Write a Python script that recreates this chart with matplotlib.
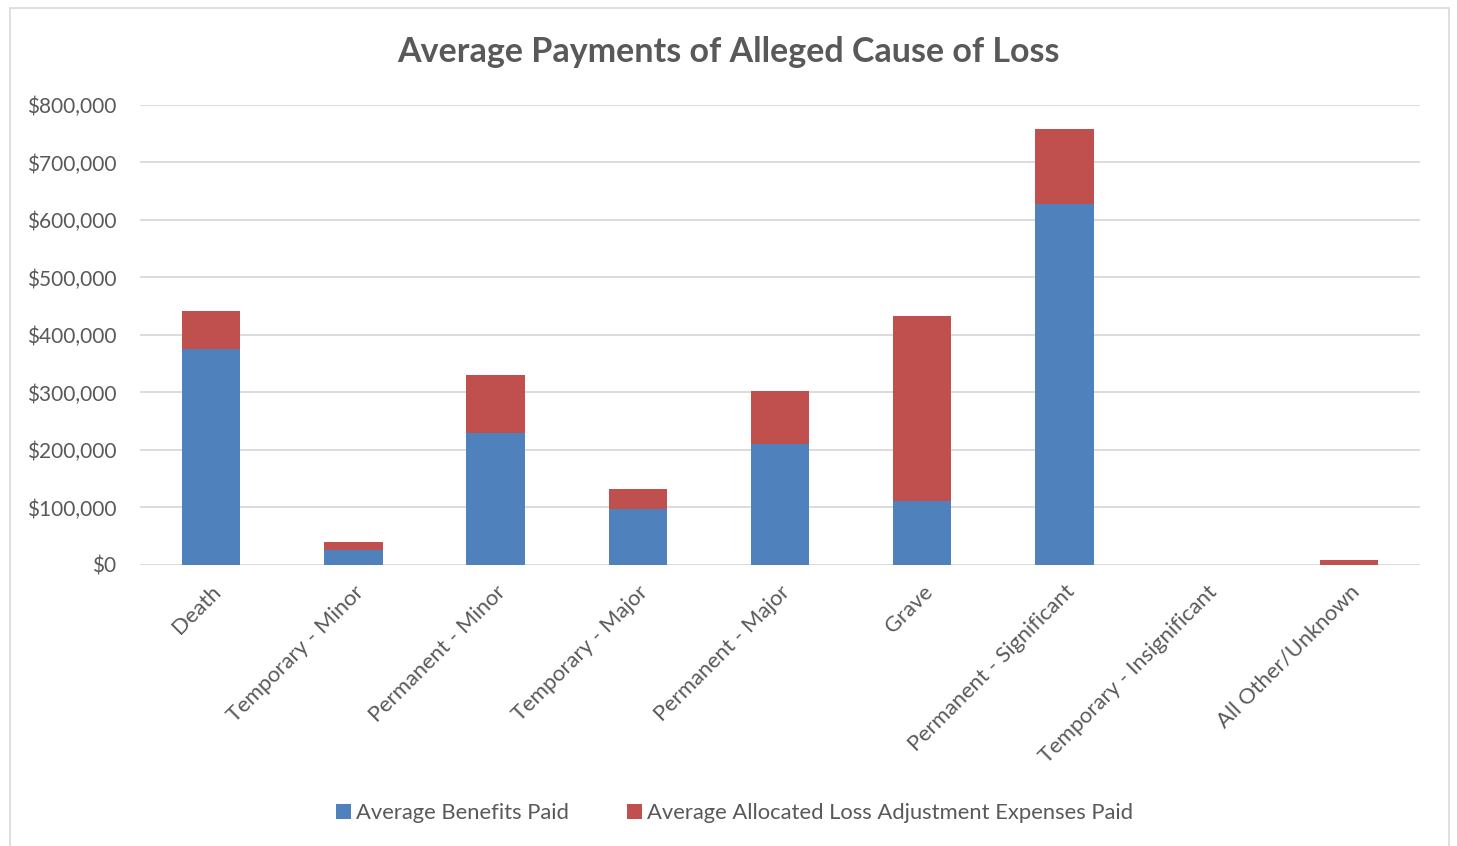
import matplotlib.pyplot as plt
from matplotlib.patches import Rectangle
from matplotlib.ticker import FuncFormatter

categories = ['Death', 'Temporary - Minor', 'Permanent - Minor', 'Temporary - Major',
              'Permanent - Major', 'Grave', 'Permanent - Significant',
              'Temporary - Insignificant', 'All Other/Unknown']
benefits = [376000, 25500, 229000, 97800, 211000, 110800, 627000, 0, 0]
alae = [66000, 14500, 101000, 33800, 92000, 322700, 131600, 0, 8000]

plt.rcParams['font.family'] = ['Lato', 'DejaVu Sans']
text_color = '#595959'

fig = plt.figure(figsize=(14.57, 8.46), dpi=100)
ax = fig.add_axes([0.0961, 0.3322, 0.8785, 0.5437])

x = range(len(categories))
ax.bar(x, benefits, width=0.41, color='#4f81bd', label='Average Benefits Paid', zorder=3)
ax.bar(x, alae, width=0.41, bottom=benefits, color='#c0504d',
       label='Average Allocated Loss Adjustment Expenses Paid', zorder=3)

ax.set_xlim(-0.5, len(categories) - 0.5)
ax.set_ylim(0, 800000)
ax.set_yticks(range(0, 800001, 100000))
ax.yaxis.set_major_formatter(FuncFormatter(lambda v, p: f'${v:,.0f}'))
ax.grid(axis='y', color='#d9d9d9', linewidth=1.3, zorder=0)
for s in ax.spines.values():
    s.set_visible(False)
ax.tick_params(length=0, colors=text_color, labelsize=15)
ax.tick_params(axis='y', pad=17)
ax.tick_params(axis='x', pad=12, labelsize=15.8)
ax.set_xticks(list(x))
ax.set_xticklabels(categories, rotation=45, ha='right', rotation_mode='anchor')

fig.text(0.5, 0.938, 'Average Payments of Alleged Cause of Loss', ha='center', va='center',
         fontsize=24.5, fontweight='bold', color=text_color)

fig.legend(loc='center', bbox_to_anchor=(0.504, 0.039), ncol=2, frameon=False,
           fontsize=15.8, labelcolor=text_color, handlelength=0.7, handleheight=0.7,
           handletextpad=0.2, columnspacing=2.65)

fig.patches.append(Rectangle((10 / 1457, -0.01), 1439 / 1457, 0.9995 - 8 / 846 + 0.01,
                             transform=fig.transFigure, fill=False,
                             edgecolor='#d9d9d9', linewidth=1.2))

fig.savefig('out.png', dpi=100, facecolor='white')
